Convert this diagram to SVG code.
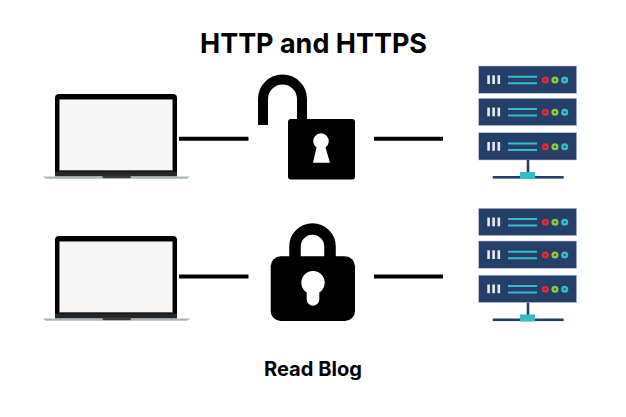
<svg xmlns="http://www.w3.org/2000/svg" width="626" height="417" viewBox="0 0 626 417">
<style>
.t{font-family:"Inter","Liberation Sans",sans-serif;font-weight:700;fill:#000;text-anchor:middle}
.c{stroke:#000;stroke-width:4;fill:none}
.r{fill:#253f68;stroke:#b9c2d0;stroke-width:.6}
.w{fill:#e8ebf0}
.b{stroke:#36bcc8;stroke-width:2;fill:none}
.sh{fill:none;stroke:#000}
</style>
<defs>
<g id="laptop">
<rect x="55" y="94" width="122" height="82" rx="4" fill="#000"/>
<rect x="59.3" y="99.3" width="113.4" height="71" fill="#f7f7f7" stroke="#666" stroke-width=".6"/>
<rect x="55" y="171.5" width="122" height="5" fill="#262626"/>
<path d="M42.7 176.6H190L187 178.8H46Z" fill="#a9b4bc"/>
<rect x="102.7" y="175.5" width="28" height="2.6" fill="#3a3a3a"/>
</g>
<g id="row">
<rect class="r" x="478.7" y="0" width="98" height="27.3"/>
<rect class="w" x="487.3" y="9.300" width="2.6" height="8.700"/>
<rect class="w" x="492.3" y="9.300" width="2.6" height="8.700"/>
<rect class="w" x="497.5" y="9.300" width="2.6" height="8.700"/>
<path class="b" d="M508 10.700H537M508 17.300H537"/>
<circle cx="545.3" cy="14" r="2.3" fill="#253f68" stroke="#e02b3c" stroke-width="2.500"/>
<circle cx="555" cy="14" r="2.3" fill="#253f68" stroke="#8cc63f" stroke-width="2.500"/>
<circle cx="564.700" cy="14" r="2.3" fill="#253f68" stroke="#36bcc8" stroke-width="2.500"/>
</g>
<g id="stand">
<rect x="526.7" y="160" width="2.6" height="14" fill="#253f68"/>
<rect x="492.7" y="176" width="71" height="2.6" fill="#253f68"/>
<rect x="520" y="172" width="15" height="7" fill="#36bcc8"/>
</g>
</defs>
<text class="t" x="313.500" y="52.700" font-size="27.500" textLength="227" lengthAdjust="spacingAndGlyphs">HTTP and HTTPS</text>
<text class="t" x="313" y="375.700" font-size="20" textLength="98" lengthAdjust="spacingAndGlyphs">Read Blog</text>
<g id="connectors">
<path class="c" d="M179 138.700H248.500"/>
<path class="c" d="M374 138.700H443"/>
<path class="c" d="M179 276.500H248.500"/>
<path class="c" d="M374 276.500H443"/>
</g>
<g id="laptop-http"><use href="#laptop"/></g>
<g id="laptop-https"><use href="#laptop" y="142"/></g>
<g id="lock-open">
<path class="sh" stroke-width="10" d="M263 125V99A19.500 19.500 0 0 1 302 99V122"/>
<rect x="288" y="119" width="67" height="60.500" rx="3" fill="#000"/>
<path fill="#fff" d="M316.500 147.500A7.800 7.800 0 1 1 325.500 147.500L330 162.700H313Z"/>
</g>
<g id="lock-closed">
<path class="sh" stroke-width="11.500" d="M295 258V246.500A17.500 17.500 0 0 1 330 246.500V258"/>
<rect x="270.700" y="256.300" width="84.300" height="64.700" rx="10" fill="#000"/>
<path fill="#fff" d="M306.700 292.500A11.700 11.700 0 1 1 319.300 292.500V299.400A6.300 6.300 0 0 1 306.700 299.400Z"/>
</g>
<g id="server-http">
<use href="#row" y="66"/><use href="#row" y="98.300"/><use href="#row" y="132.700"/><use href="#stand"/>
</g>
<g id="server-https">
<use href="#row" y="208.300"/><use href="#row" y="241"/><use href="#row" y="275.200"/><use href="#stand" y="142.500"/>
</g>
</svg>
